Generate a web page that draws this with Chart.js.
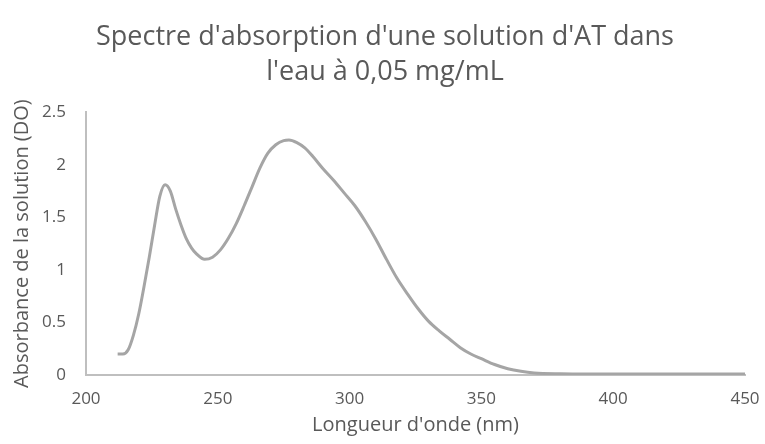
<!DOCTYPE html>
<html>
<head>
<meta charset="utf-8">
<script src="https://cdn.jsdelivr.net/npm/chart.js@4/dist/chart.umd.min.js"></script>
<style>
  html, body { margin: 0; padding: 0; background: #fff; }
  #wrap { width: 765px; height: 444px; }
</style>
</head>
<body>
<div id="wrap"><canvas id="spectreChart" width="765" height="444"></canvas></div>
<script>
// Longueurs d'onde (nm) et absorbance mesurée (DO)
const wavelengths = [
  212, 214, 216, 218, 220, 222, 224, 226, 228, 230, 232, 234, 236, 238, 240, 242,
  245, 248, 251, 254, 257, 260, 263, 266, 269, 272, 275, 277, 280, 283, 286, 290,
  294, 298, 302, 306, 310, 314, 318, 322, 326, 330, 334, 338, 342, 346, 350, 355,
  360, 365, 370, 380, 390, 400, 410, 420, 430, 440, 450
];
const absorbance = [
  0.20, 0.20, 0.24, 0.38, 0.58, 0.84, 1.12, 1.42, 1.70, 1.81, 1.75, 1.58, 1.43, 1.30, 1.21, 1.15,
  1.10, 1.12, 1.19, 1.30, 1.44, 1.61, 1.79, 1.97, 2.11, 2.19, 2.23, 2.235, 2.21, 2.16, 2.08, 1.96,
  1.85, 1.73, 1.61, 1.46, 1.29, 1.10, 0.92, 0.77, 0.63, 0.51, 0.42, 0.34, 0.26, 0.20, 0.155, 0.10,
  0.06, 0.035, 0.02, 0.012, 0.01, 0.01, 0.01, 0.01, 0.01, 0.01, 0.01
];
const titleLines = ["Spectre d'absorption d'une solution d'AT dans", "l'eau à 0,05 mg/mL"];
const xTitle = "Longueur d'onde (nm)";
const yTitle = "Absorbance de la solution (DO)";

const textColor = "#595959";
const axisColor = "#bfbfbf";
const fontFamily = "'Open Sans', sans-serif";

const points = wavelengths.map(function (w, i) { return { x: w, y: absorbance[i] }; });

new Chart(document.getElementById("spectreChart"), {
  type: "line",
  data: {
    datasets: [{
      data: points,
      borderColor: "#a5a5a5",
      borderWidth: 3,
      pointRadius: 0,
      fill: false,
      cubicInterpolationMode: "monotone"
    }]
  },
  options: {
    responsive: false,
    animation: false,
    layout: { padding: { left: 5, right: 0, top: 0, bottom: 0 } },
    plugins: {
      legend: { display: false },
      tooltip: { enabled: false },
      title: {
        display: true,
        text: titleLines,
        color: textColor,
        font: { family: fontFamily, size: 27, weight: "normal", lineHeight: 1.3 },
        padding: { top: 20, bottom: 22 }
      }
    },
    scales: {
      x: {
        type: "linear",
        min: 200,
        max: 450,
        grid: { display: false },
        border: { display: true, color: axisColor, width: 2 },
        ticks: {
          stepSize: 50,
          color: textColor,
          padding: 6,
          font: { family: fontFamily, size: 17 }
        },
        title: {
          display: true,
          text: xTitle,
          color: textColor,
          font: { family: fontFamily, size: 20 },
          padding: { top: 0, bottom: 7 }
        },
        afterFit: function (scale) {
          scale.height = 69;
          scale.paddingRight = 20;
        }
      },
      y: {
        min: 0,
        max: 2.5,
        grid: { display: false },
        border: { display: true, color: axisColor, width: 2 },
        ticks: {
          stepSize: 0.5,
          color: textColor,
          padding: 12,
          font: { family: fontFamily, size: 17 },
          callback: function (value) { return String(value); }
        },
        title: {
          display: true,
          text: yTitle,
          color: textColor,
          font: { family: fontFamily, size: 20 },
          padding: { top: 5, bottom: 0 }
        },
        afterFit: function (scale) { scale.width = 81; }
      }
    }
  }
});
</script>
</body>
</html>
